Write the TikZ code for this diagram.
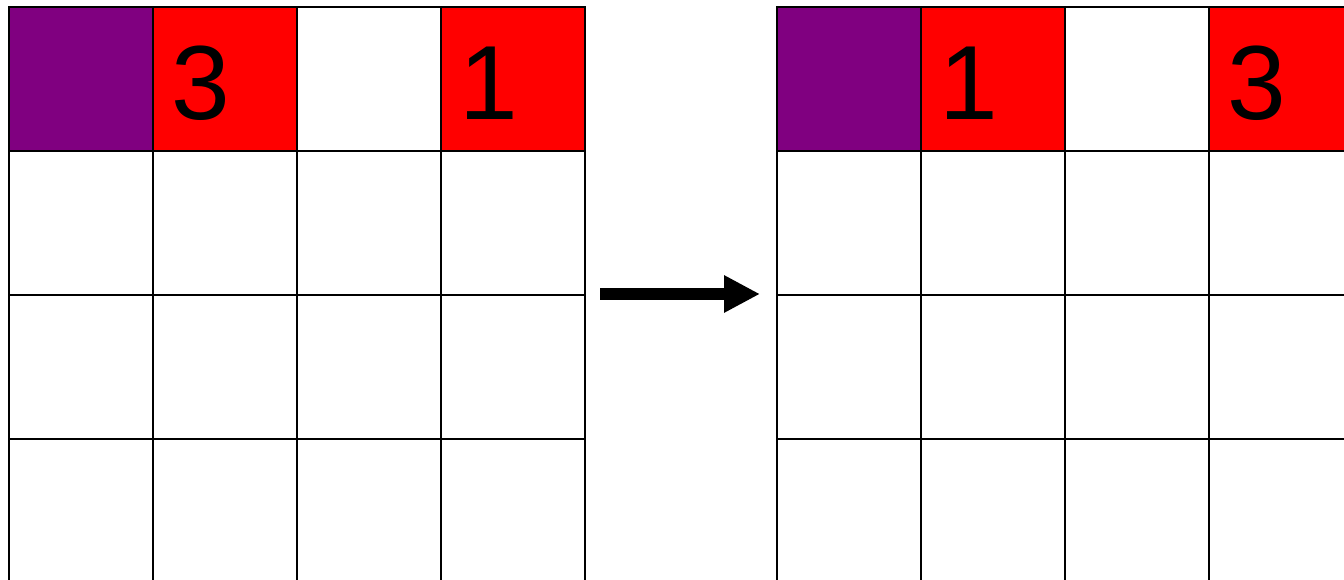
\documentclass[tikz,border=0pt]{standalone}
\usepackage{fontspec}
\setmainfont{Liberation Sans}
\usetikzlibrary{arrows.meta}
\definecolor{cellpurple}{RGB}{128,0,128}
\definecolor{cellred}{RGB}{255,0,0}

\begin{document}
\begin{tikzpicture}[>={Triangle[length=0.36cm,width=0.35cm]},
  cell/.style={draw=black, line width=0.55pt, minimum size=1.44cm, inner sep=0pt, anchor=north west},
  digit/.style={inner sep=0pt, font=\fontsize{30}{30}\selectfont, xshift=-0.24cm, yshift=-0.04cm}]
  \useasboundingbox (0,0) rectangle (13.44,5.80);
  \clip (0,0) rectangle (13.44,5.80);

  % 1. lower rows of both grids (white)
  \foreach \side/\x in {L/0.08, R/7.76}{
    \foreach \r in {1,2,3}{
      \foreach \c in {0,...,3}{
        \node[cell, fill=white] (\side-\r-\c) at ({\x+1.44*\c},{5.74-1.44*\r}) {};
      }
    }
  }

  % 2. top row, left grid: purple, red 3, white, red 1
  \node[cell, fill=cellpurple] (L-0-0) at (0.08,5.74) {};
  \node[cell, fill=cellred] (L-0-1) at (1.52,5.74) {};
  \node[cell, fill=white] (L-0-2) at (2.96,5.74) {};
  \node[cell, fill=cellred] (L-0-3) at (4.40,5.74) {};
  \node[digit] (L-num-1) at (L-0-1.center) {3};
  \node[digit] (L-num-3) at (L-0-3.center) {1};

  % 3. top row, right grid: the two numbers swapped
  \node[cell, fill=cellpurple] (R-0-0) at (7.76,5.74) {};
  \node[cell, fill=cellred] (R-0-1) at (9.20,5.74) {};
  \node[cell, fill=white] (R-0-2) at (10.64,5.74) {};
  \node[cell, fill=cellred] (R-0-3) at (12.08,5.74) {};
  \node[digit] (R-num-1) at (R-0-1.center) {1};
  \node[digit] (R-num-3) at (R-0-3.center) {3};

  % 4. arrow between the grids
  \coordinate (arrS) at (6.00,2.86);
  \coordinate (arrE) at (7.60,2.86);
  \draw[->, line width=0.12cm] (arrS) -- (arrE);
\end{tikzpicture}
\end{document}
